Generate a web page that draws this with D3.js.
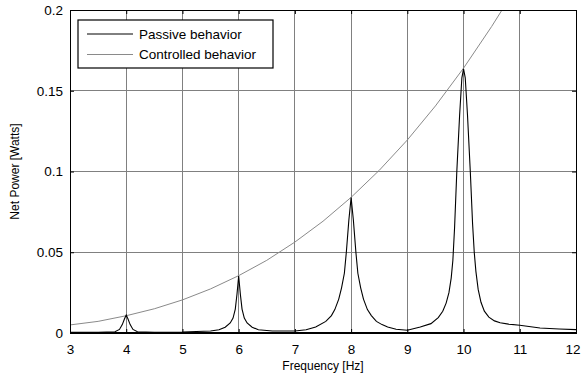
<!DOCTYPE html>
<html>
<head>
<meta charset="utf-8">
<script src="https://cdn.jsdelivr.net/npm/d3@7/dist/d3.min.js"></script>
<style>
  body { margin: 0; background: #fff; }
  svg { display: block; font-family: "Liberation Sans", Arial, sans-serif; }
</style>
</head>
<body>
<svg id="chart" width="582" height="379"></svg>
<script>
// frequency [Hz] / net power [W]
const passiveFreq = [3.0, 3.5, 3.8, 3.88, 3.93, 3.97, 4.0, 4.03, 4.07, 4.12, 4.2, 4.5, 5.0, 5.5, 5.65, 5.76, 5.85, 5.9, 5.94, 5.97, 6.0, 6.03, 6.06, 6.1, 6.15, 6.24, 6.35, 6.6, 7.0, 7.2, 7.37, 7.55, 7.65, 7.71, 7.78, 7.83, 7.88, 7.915, 7.96, 8.0, 8.04, 8.085, 8.12, 8.17, 8.22, 8.29, 8.36, 8.45, 8.55, 8.65, 8.8, 9.0, 9.23, 9.42, 9.55, 9.63, 9.69, 9.74, 9.78, 9.81, 9.84, 9.88, 9.93, 9.97, 10.0, 10.03, 10.07, 10.12, 10.16, 10.19, 10.22, 10.26, 10.31, 10.37, 10.45, 10.55, 10.65, 10.8, 11.0, 11.36, 11.7, 12.0]
const passivePower = [0.0004, 0.0005, 0.0008, 0.0022, 0.0052, 0.0088, 0.0111, 0.0088, 0.0052, 0.0022, 0.0008, 0.0005, 0.0006, 0.0012, 0.002, 0.0036, 0.0062, 0.0092, 0.0148, 0.024, 0.0353, 0.024, 0.0148, 0.0092, 0.0062, 0.0036, 0.002, 0.0012, 0.0012, 0.002, 0.0037, 0.0072, 0.0108, 0.0145, 0.021, 0.028, 0.037, 0.05, 0.07, 0.0838, 0.07, 0.05, 0.037, 0.028, 0.021, 0.0145, 0.0108, 0.0072, 0.0052, 0.0037, 0.0023, 0.0017, 0.0037, 0.0058, 0.0095, 0.0135, 0.0185, 0.025, 0.034, 0.045, 0.065, 0.1, 0.135, 0.158, 0.1636, 0.158, 0.135, 0.1, 0.068, 0.05, 0.038, 0.027, 0.019, 0.0135, 0.0098, 0.0075, 0.0063, 0.0055, 0.0048, 0.0031, 0.0025, 0.0021]

const controlledFreq = [3.0, 3.5, 4.0, 4.5, 5.0, 5.5, 6.0, 6.5, 7.0, 7.5, 8.0, 8.5, 9.0, 9.5, 10.0, 10.5, 10.7]
const controlledPower = [0.005, 0.0072, 0.0107, 0.015, 0.0205, 0.0273, 0.0355, 0.045, 0.0563, 0.0692, 0.084, 0.1007, 0.1195, 0.1406, 0.164, 0.1898, 0.2009]

const xTicks = [3, 4, 5, 6, 7, 8, 9, 10, 11, 12]
const yTicks = [0, 0.05, 0.1, 0.15, 0.2]
const yTickLabels = ["0", "0.05", "0.1", "0.15", "0.2"]
const seriesNames = ["Passive behavior", "Controlled behavior"]
const seriesColors = ["#000000", "#8a8a8a"]

const margin = {top: 10, right: 6, bottom: 46, left: 70}
const width = 582, height = 379
const plotWidth = width - margin.left - margin.right
const plotHeight = height - margin.top - margin.bottom

const svg = d3.select("#chart")
const plot = svg.append("g")
	.attr("transform", "translate(" + margin.left + "," + margin.top + ")")

const x = d3.scaleLinear().domain([3, 12]).range([0, plotWidth])
const y = d3.scaleLinear().domain([0, 0.2]).range([plotHeight, 0])

plot.append("defs").append("clipPath").attr("id", "clip")
	.append("rect").attr("width", plotWidth).attr("height", plotHeight)

// grid
plot.append("g").selectAll("line").data(xTicks).join("line")
	.attr("x1", d => x(d)).attr("x2", d => x(d))
	.attr("y1", 0).attr("y2", plotHeight)
	.attr("stroke", "#808080").attr("stroke-width", 1).attr("shape-rendering", "crispEdges")
plot.append("g").selectAll("line").data(yTicks).join("line")
	.attr("x1", 0).attr("x2", plotWidth)
	.attr("y1", d => y(d)).attr("y2", d => y(d))
	.attr("stroke", "#808080").attr("stroke-width", 1).attr("shape-rendering", "crispEdges")

// series
const toPoints = (fs, ps) => fs.map((f, i) => ({f: f, p: ps[i]}))
const line = d3.line().x(d => x(d.f)).y(d => y(d.p))
plot.append("path")
	.datum(toPoints(controlledFreq, controlledPower))
	.attr("clip-path", "url(#clip)")
	.attr("fill", "none").attr("stroke", seriesColors[1]).attr("stroke-width", 1)
	.attr("d", line)
plot.append("path")
	.datum(toPoints(passiveFreq, passivePower))
	.attr("clip-path", "url(#clip)")
	.attr("fill", "none").attr("stroke", seriesColors[0]).attr("stroke-width", 1.1)
	.attr("d", line)

// axes
const axisStyle = g => {
	g.select(".domain").remove()
	g.selectAll("text").attr("font-size", "13.5px").attr("fill", "#000")
		.attr("font-family", "Liberation Sans, Arial, sans-serif")
	g.selectAll(".tick line").attr("stroke", "#000")
}
plot.append("g")
	.attr("transform", "translate(0," + plotHeight + ")")
	.call(d3.axisBottom(x).tickValues(xTicks).tickFormat(d3.format("d")).tickSize(-4).tickPadding(11))
	.call(axisStyle)
	.call(g => g.selectAll(".tick text").filter(d => d === 12).attr("text-anchor", "end").attr("dx", "0.3em"))
plot.append("g")
	.call(d3.axisTop(x).tickValues(xTicks).tickFormat("").tickSize(-4))
	.call(axisStyle)
plot.append("g")
	.call(d3.axisLeft(y).tickValues(yTicks).tickFormat((d, i) => yTickLabels[i]).tickSize(-4).tickPadding(7))
	.call(axisStyle)
plot.append("g")
	.attr("transform", "translate(" + plotWidth + ",0)")
	.call(d3.axisRight(y).tickValues(yTicks).tickFormat("").tickSize(-4))
	.call(axisStyle)

// box
plot.append("rect")
	.attr("width", plotWidth).attr("height", plotHeight)
	.attr("fill", "none").attr("stroke", "#000").attr("stroke-width", 1)
	.attr("shape-rendering", "crispEdges")
plot.append("line")
	.attr("x1", 0).attr("x2", plotWidth).attr("y1", plotHeight).attr("y2", plotHeight)
	.attr("stroke", "#000").attr("stroke-width", 2)

// labels
svg.append("text")
	.attr("x", margin.left + plotWidth / 2).attr("y", 370)
	.attr("text-anchor", "middle").attr("font-size", "12px")
	.text("Frequency [Hz]")
svg.append("text")
	.attr("transform", "translate(19," + (margin.top + plotHeight / 2) + ") rotate(-90)")
	.attr("text-anchor", "middle").attr("font-size", "12px")
	.text("Net Power [Watts]")

// legend
const legend = plot.append("g").attr("transform", "translate(8,10)")
legend.append("rect")
	.attr("width", 195).attr("height", 48)
	.attr("fill", "#fff").attr("stroke", "#000").attr("stroke-width", 1.2)
legend.selectAll("g.item").data(seriesNames).join("g")
	.attr("class", "item")
	.attr("transform", (d, i) => "translate(0," + (14 + i * 20.5) + ")")
	.each(function(d, i) {
		const g = d3.select(this)
		g.append("line").attr("x1", 9).attr("x2", 55).attr("y1", 0).attr("y2", 0)
			.attr("stroke", seriesColors[i]).attr("stroke-width", 1)
		g.append("text").attr("x", 61).attr("y", 0).attr("dy", "0.35em")
			.attr("font-size", "13.5px").text(d)
	})
</script>
</body>
</html>
